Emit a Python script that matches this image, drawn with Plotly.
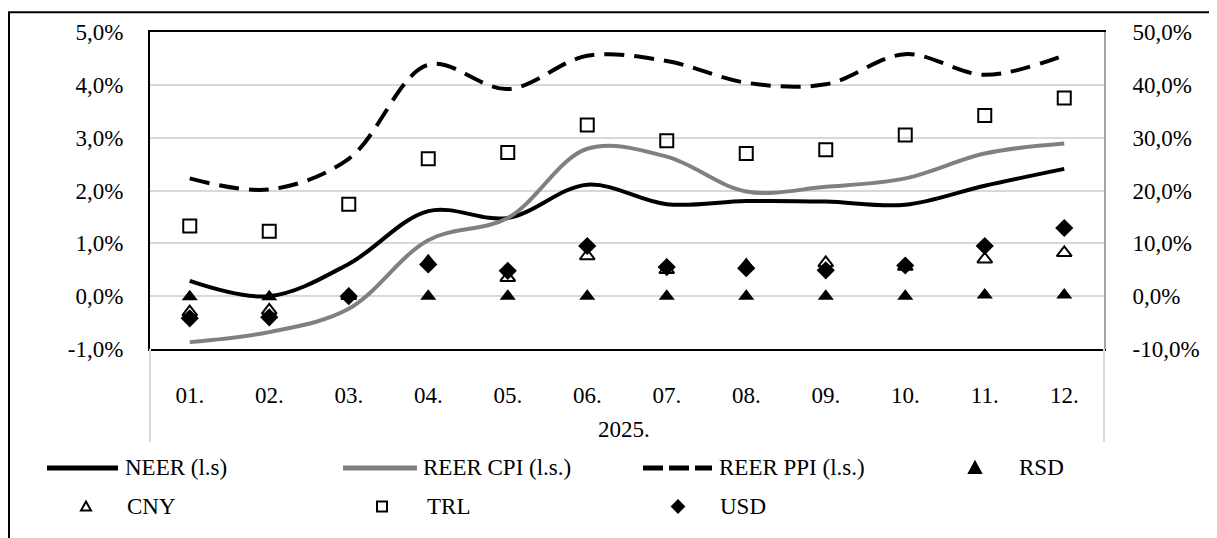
import plotly.graph_objects as go

months = ["01.", "02.", "03.", "04.", "05.", "06.", "07.", "08.", "09.", "10.", "11.", "12."]
year_label = "2025."

# left scale (%)
neer = [0.29, 0.00, 0.61, 1.61, 1.48, 2.11, 1.74, 1.80, 1.79, 1.73, 2.09, 2.41]
reer_cpi = [-0.87, -0.68, -0.24, 1.06, 1.48, 2.79, 2.64, 1.98, 2.07, 2.23, 2.70, 2.89]
reer_ppi = [2.23, 2.02, 2.60, 4.38, 3.92, 4.55, 4.45, 4.04, 4.01, 4.58, 4.19, 4.56]
# right scale (%)
rsd = [-0.1, -0.1, 0.0, 0.0, 0.0, 0.0, 0.0, 0.0, 0.0, 0.0, 0.2, 0.2]
cny = [-3.0, -2.7, 0.1, 6.5, 3.5, 7.6, 5.0, 5.8, 6.3, 5.6, 7.0, 8.2]
trl = [13.3, 12.3, 17.4, 26.0, 27.2, 32.4, 29.4, 27.0, 27.7, 30.5, 34.2, 37.5]
usd = [-4.2, -4.0, 0.0, 6.0, 4.8, 9.5, 5.5, 5.3, 4.9, 5.8, 9.5, 12.9]

# tick labels
left_ticks = [-1, 0, 1, 2, 3, 4, 5]
left_labels = ["-1,0%", "0,0%", "1,0%", "2,0%", "3,0%", "4,0%", "5,0%"]
right_ticks = [-10, 0, 10, 20, 30, 40, 50]
right_labels = ["-10,0%", "0,0%", "10,0%", "20,0%", "30,0%", "40,0%", "50,0%"]

FONT = "Liberation Serif"
FS = 23
OFF = 8  # page body margin
W, H = 1217 - OFF, 538 - OFF
L, R, T, B = 150, 1104, 29, 349  # plot area in page pixels


def px(x):
    return (x - L) / (R - L)


def py(y):
    return (B - y) / (B - T)


fig = go.Figure()
fig.add_trace(go.Scatter(x=months, y=neer, mode="lines", line=dict(color="black", width=4, shape="spline", smoothing=1.0), yaxis="y"))
fig.add_trace(go.Scatter(x=months, y=reer_cpi, mode="lines", line=dict(color="#808080", width=4, shape="spline", smoothing=1.0), yaxis="y"))
fig.add_trace(go.Scatter(x=months, y=reer_ppi, mode="lines", line=dict(color="black", width=4, shape="spline", smoothing=1.0, dash="20px,10px"), yaxis="y"))
fig.add_trace(go.Scatter(x=months, y=rsd, mode="markers", marker=dict(symbol="triangle-up", size=14, color="black"), yaxis="y2"))
fig.add_trace(go.Scatter(x=months, y=cny, mode="markers", marker=dict(symbol="triangle-up-open", size=13, color="black", line=dict(width=2)), yaxis="y2"))
fig.add_trace(go.Scatter(x=months, y=trl, mode="markers", marker=dict(symbol="square-open", size=13, color="black", line=dict(width=2)), yaxis="y2"))
fig.add_trace(go.Scatter(x=months, y=usd, mode="markers", marker=dict(symbol="diamond", size=14, color="black"), yaxis="y2"))

shapes = []
# outer border
shapes.append(dict(type="rect", xref="paper", yref="paper", x0=px(9), x1=px(1240), y0=py(9), y1=py(570),
                   line=dict(color="black", width=2), fillcolor="rgba(0,0,0,0)", layer="below"))
# category separators below plot
for xv in (0, 1):
    shapes.append(dict(type="line", xref="x domain", yref="y domain", x0=xv, x1=xv, y0=0, y1=py(443),
                       line=dict(color="#d9d9d9", width=2)))

annotations = [dict(text=year_label, xref="paper", yref="paper", x=px(624), y=py(430), showarrow=False,
                    font=dict(family=FONT, size=FS, color="black"), xanchor="center", yanchor="middle")]

# manual legend
r1, r2 = 469, 508
legend_lines = [
    (47, 118, r1, "black", "solid", 123, "NEER (l.s)"),
    (343, 417, r1, "#808080", "solid", 421, "REER CPI (l.s.)"),
    (643, 712, r1, "black", "20px,6px", 717, "REER PPI (l.s.)"),
]
for x0, x1, yy, col, dash, tx, label in legend_lines:
    shapes.append(dict(type="line", xref="paper", yref="paper", x0=px(x0), x1=px(x1), y0=py(yy), y1=py(yy),
                       line=dict(color=col, width=5, dash=dash)))
    annotations.append(dict(text=label, xref="paper", yref="paper", x=px(tx), y=py(yy), showarrow=False,
                            font=dict(family=FONT, size=FS, color="black"), xanchor="left", yanchor="middle"))

legend_marks = [
    (975, r1, "M -6,-5 L 6,-5 L 0,6 Z", "black", 1017, "RSD"),
    (86, r2, "M -5,-4 L 5,-4 L 0,5 Z", "white", 125, "CNY"),
    (382, r2, "M -5,-5 L 5,-5 L 5,5 L -5,5 Z", "white", 425, "TRL"),
    (678, r2, "M 0,-6 L 6,0 L 0,6 L -6,0 Z", "black", 718, "USD"),
]
for cx, cy, path, fill, tx, label in legend_marks:
    shapes.append(dict(type="path", xref="paper", yref="paper", xsizemode="pixel", ysizemode="pixel",
                       xanchor=px(cx), yanchor=py(cy), path=path, fillcolor=fill,
                       line=dict(color="black", width=2)))
    annotations.append(dict(text=label, xref="paper", yref="paper", x=px(tx), y=py(cy), showarrow=False,
                            font=dict(family=FONT, size=FS, color="black"), xanchor="left", yanchor="middle"))

fig.update_layout(
    width=W, height=H, autosize=False,
    margin=dict(l=L - OFF, r=(W + OFF) - R, t=T - OFF, b=(H + OFF) - B, pad=0),
    paper_bgcolor="white", plot_bgcolor="white",
    showlegend=False,
    font=dict(family=FONT, size=FS, color="black"),
    xaxis=dict(type="category", categoryorder="array", categoryarray=months, range=[-0.5, 11.5],
               showline=True, linecolor="black", linewidth=2, mirror=True, showgrid=False,
               ticks="", ticklabelstandoff=24, tickfont=dict(family=FONT, size=FS, color="black")),
    yaxis=dict(range=[-1, 5], tickmode="array", tickvals=left_ticks, ticktext=left_labels,
               showgrid=True, gridcolor="#d9d9d9",
               gridwidth=2, zeroline=False, showline=True, linecolor="black", linewidth=2,
               ticks="", ticklabelstandoff=20, tickfont=dict(family=FONT, size=FS, color="black")),
    yaxis2=dict(range=[-10, 50], tickmode="array", tickvals=right_ticks, ticktext=right_labels,
                overlaying="y", side="right",
                showgrid=False, zeroline=False, showline=True, linecolor="#a6a6a6", linewidth=2,
                ticks="", ticklabelstandoff=22, tickfont=dict(family=FONT, size=FS, color="black")),
    shapes=shapes,
    annotations=annotations,
)

fig.write_html("out.html")
